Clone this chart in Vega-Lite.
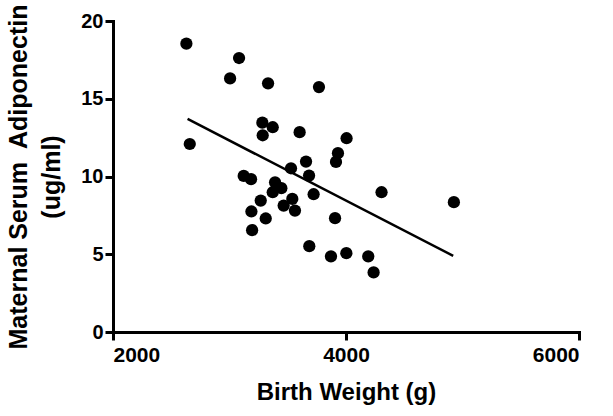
{
  "$schema": "https://vega.github.io/schema/vega-lite/v6.json",
  "width": 466,
  "height": 311,
  "autosize": "none",
  "padding": {"left": 113, "top": 21, "right": 34, "bottom": 84},
  "background": "white",
  "config": {
    "view": {"stroke": null},
    "font": "Liberation Sans",
    "axis": {
      "grid": false,
      "domainColor": "black",
      "domainWidth": 3,
      "domainCap": "square",
      "tickColor": "black",
      "tickWidth": 3,
      "tickSize": 8,
      "labelFont": "Liberation Sans",
      "labelFontWeight": "bold",
      "labelColor": "black",
      "titleFont": "Liberation Sans",
      "titleFontWeight": "bold",
      "titleColor": "black"
    }
  },
  "datasets": {
    "pts": [
      {"bw": 2630, "adipo": 18.54},
      {"bw": 3082, "adipo": 17.62},
      {"bw": 3005, "adipo": 16.31},
      {"bw": 3331, "adipo": 15.99},
      {"bw": 3768, "adipo": 15.75},
      {"bw": 2659, "adipo": 12.09},
      {"bw": 3282, "adipo": 13.46},
      {"bw": 3371, "adipo": 13.17},
      {"bw": 3285, "adipo": 12.65},
      {"bw": 3602, "adipo": 12.85},
      {"bw": 4005, "adipo": 12.46},
      {"bw": 3931, "adipo": 11.5},
      {"bw": 3914, "adipo": 10.94},
      {"bw": 3528, "adipo": 10.53},
      {"bw": 3657, "adipo": 10.96},
      {"bw": 3683, "adipo": 10.06},
      {"bw": 3122, "adipo": 10.04},
      {"bw": 3185, "adipo": 9.83},
      {"bw": 3391, "adipo": 9.63},
      {"bw": 3445, "adipo": 9.25},
      {"bw": 3371, "adipo": 8.99},
      {"bw": 3268, "adipo": 8.45},
      {"bw": 3539, "adipo": 8.56},
      {"bw": 3465, "adipo": 8.13},
      {"bw": 3562, "adipo": 7.81},
      {"bw": 3188, "adipo": 7.75},
      {"bw": 3722, "adipo": 8.86},
      {"bw": 3311, "adipo": 7.3},
      {"bw": 3194, "adipo": 6.55},
      {"bw": 3906, "adipo": 7.32},
      {"bw": 3685, "adipo": 5.52},
      {"bw": 3871, "adipo": 4.86},
      {"bw": 4003, "adipo": 5.07},
      {"bw": 4926, "adipo": 8.35},
      {"bw": 4305, "adipo": 8.99},
      {"bw": 4191, "adipo": 4.86},
      {"bw": 4237, "adipo": 3.83}
    ],
    "fit": [
      {"bw": 2640, "adipo": 13.7},
      {"bw": 4920, "adipo": 4.9}
    ]
  },
  "layer": [
    {
      "data": {"name": "fit"},
      "mark": {"type": "line", "color": "black", "strokeWidth": 2.5},
      "encoding": {
        "x": {"field": "bw", "type": "quantitative"},
        "y": {"field": "adipo", "type": "quantitative"}
      }
    },
    {
      "data": {"name": "pts"},
      "mark": {"type": "circle", "color": "black", "opacity": 1, "size": 150},
      "encoding": {
        "x": {
          "field": "bw", "type": "quantitative",
          "scale": {"domain": [2000, 6000], "nice": false, "zero": false},
          "axis": {"values": [2000, 4000, 6000], "format": "d", "title": "Birth Weight (g)", "titleFontSize": 24, "titlePadding": 15, "labelPadding": 4, "labelFontSize": 21,
            "encode": {"labels": {"update": {"fontWeight": {"value": "bold"}, "font": {"value": "Liberation Sans"}}}}}
        },
        "y": {
          "field": "adipo", "type": "quantitative",
          "scale": {"domain": [0, 20], "nice": false},
          "axis": {"values": [0, 5, 10, 15, 20], "title": ["Maternal Serum\u00a0 Adiponectin", "(ug/ml)"], "titleFontSize": 25, "titlePadding": 16, "titleLineHeight": 33, "labelPadding": 2, "labelFontSize": 20,
            "encode": {"labels": {"update": {"fontWeight": {"value": "bold"}, "font": {"value": "Liberation Sans"}}}}}
        }
      }
    }
  ]
}
